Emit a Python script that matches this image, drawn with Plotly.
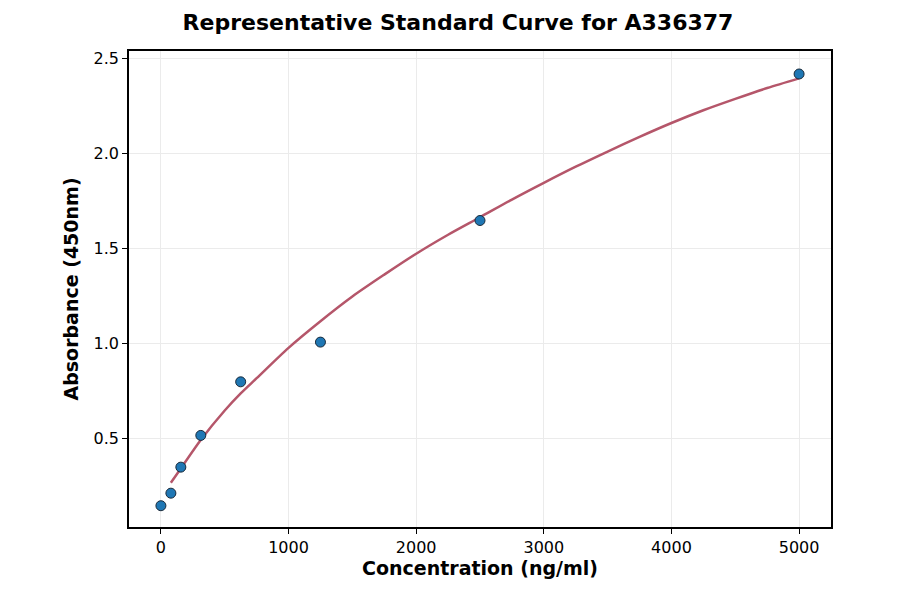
import plotly.graph_objects as go

# standard points
conc = [0, 78.125, 156.25, 312.5, 625, 1250, 2500, 5000]
absorbance = [0.144, 0.21, 0.347, 0.514, 0.796, 1.005, 1.645, 2.416]

# fitted curve
fit_x = [78, 156, 312, 500, 625, 750, 1000, 1250, 1500, 1750, 2000, 2250, 2500,
         2750, 3000, 3250, 3500, 3750, 4000, 4250, 4500, 4750, 5000]
fit_y = [0.265, 0.34, 0.49, 0.645, 0.735, 0.815, 0.975, 1.115, 1.245, 1.36, 1.47, 1.57, 1.662,
         1.755, 1.843, 1.928, 2.008, 2.085, 2.158, 2.225, 2.285, 2.342, 2.393]

x_ticks = [0, 1000, 2000, 3000, 4000, 5000]
y_ticks = [0.5, 1.0, 1.5, 2.0, 2.5]

font = "DejaVu Sans"

fig = go.Figure()
fig.add_trace(go.Scatter(x=fit_x, y=fit_y, mode="lines", line_shape="spline",
                         line=dict(color="#b5566a", width=2.5, smoothing=0.8),
                         hoverinfo="skip"))
fig.add_trace(go.Scatter(x=conc, y=absorbance, mode="markers",
                         marker=dict(color="#1f77b4", size=10,
                                     line=dict(color="#1a2a3a", width=1))))

axis_common = dict(showline=True, linecolor="black", linewidth=1.5, mirror=True,
                   ticks="outside", ticklen=5, tickcolor="black",
                   showgrid=True, gridcolor="#ebebeb", gridwidth=1, zeroline=False,
                   tickfont=dict(family=font, size=16, color="black"))

fig.update_xaxes(range=[-250, 5250], tickvals=x_ticks, tickformat="d",
                 title=dict(text="<b>Concentration (ng/ml)</b>",
                            font=dict(family=font, size=19, color="black"), standoff=6),
                 **axis_common)
fig.update_yaxes(range=[0.032, 2.537], tickvals=y_ticks, tickformat=".1f",
                 title=dict(text="<b>Absorbance (450nm)</b>",
                            font=dict(family=font, size=19, color="black"), standoff=10),
                 **axis_common)

# page body adds an 8px offset, margins compensate for it
fig.update_layout(
    width=900, height=594,
    margin=dict(l=121, r=77, t=43, b=75),
    plot_bgcolor="white", paper_bgcolor="white",
    showlegend=False,
    title=dict(text="<b>Representative Standard Curve for A336377</b>",
               x=0.5, xanchor="center", y=0.976, yanchor="middle",
               font=dict(family=font, size=22, color="black")),
)

fig.write_html("out.html")
